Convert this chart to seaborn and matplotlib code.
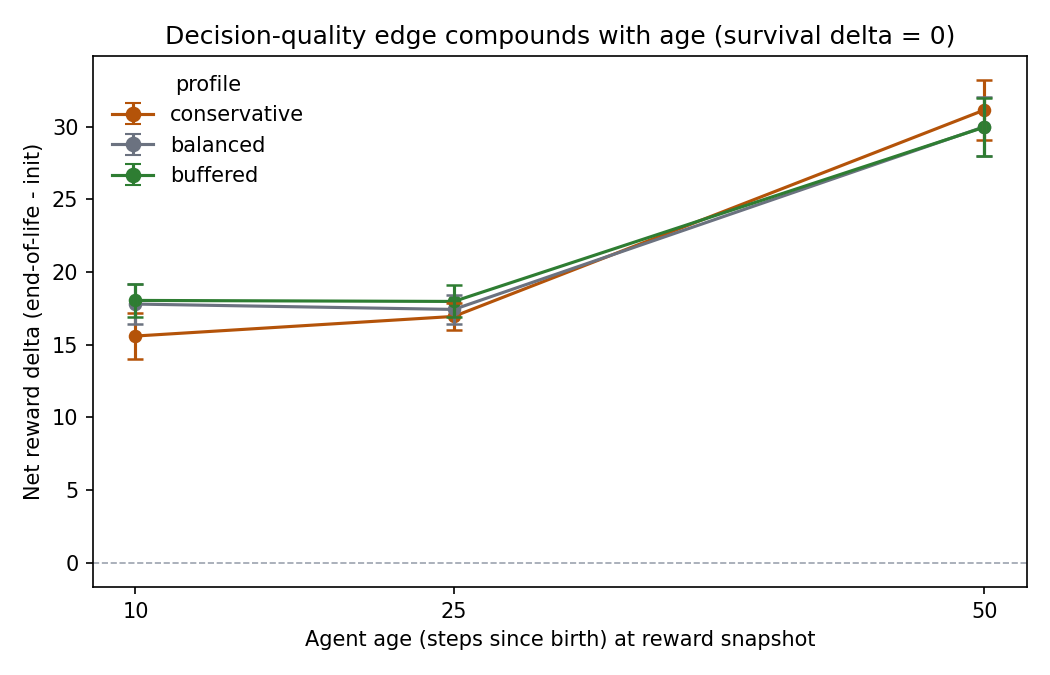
import matplotlib
matplotlib.use("Agg")
import numpy as np
import pandas as pd
import matplotlib.pyplot as plt
import seaborn as sns

# snapshot ages (steps since birth)
ages = [10, 25, 50]
profiles = ["conservative", "balanced", "buffered"]
colors = ["#b45309", "#6b7280", "#2e7d32"]

# mean net reward delta per profile, and error half-widths
mean_conservative = [15.6, 16.95, 31.15]
mean_balanced = [17.8, 17.43, 30.0]
mean_buffered = [18.05, 17.98, 29.97]
err_conservative = [1.6, 0.95, 2.05]
err_balanced = [1.35, 1.0, 2.05]
err_buffered = [1.15, 1.1, 2.0]

df = pd.DataFrame({
    "age": ages * 3,
    "delta": mean_conservative + mean_balanced + mean_buffered,
    "err": err_conservative + err_balanced + err_buffered,
    "profile": [p for p in profiles for _ in ages],
})

fig, ax = plt.subplots(figsize=(7, 4.5), dpi=150)
ax.axhline(0, color="#9ca3af", lw=0.8, ls="--", zorder=0)

sns.lineplot(data=df, x="age", y="delta", hue="profile", hue_order=profiles,
             palette=colors, marker="o", markersize=6.5, markeredgewidth=0,
             linewidth=1.5, legend=False, ax=ax)

for p, c in zip(profiles, colors):
    sub = df[df["profile"] == p]
    ax.errorbar(sub["age"], sub["delta"], yerr=sub["err"], fmt="none",
                ecolor=c, elinewidth=1.5, capsize=4, capthick=1.2)
    # legend handle only
    ax.errorbar([np.nan], [np.nan], yerr=[np.nan], fmt="-o", color=c,
                ms=6.5, lw=1.5, capsize=4, label=p)

ax.set_xticks(ages)
ax.set_xlabel("Agent age (steps since birth) at reward snapshot")
ax.set_ylabel("Net reward delta (end-of-life - init)")
ax.set_title("Decision-quality edge compounds with age (survival delta = 0)")
ax.legend(title="profile", frameon=False, loc="upper left")

fig.subplots_adjust(left=0.0886, right=0.978, top=0.917, bottom=0.1304)
fig.savefig("out.png", dpi=150)
